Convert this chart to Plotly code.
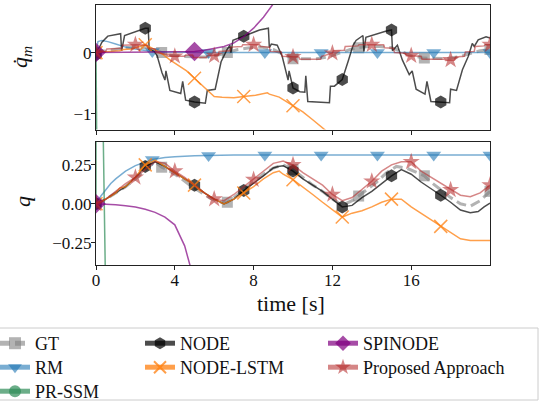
import numpy as np
import plotly.graph_objects as go

# ---------------- data: top panel (joint velocity dq_m) ----------------
t_gt_dq = [0, 0.5, 1.0, 1.5, 2.0, 2.5, 3.0, 3.333, 3.7, 4.3, 5.0, 5.6, 6.2, 6.667, 7.2, 7.8, 8.4, 9.0, 9.5,
           10.0, 10.6, 11.2, 11.8, 12.4, 12.9, 13.333, 13.8, 14.4, 15.0, 15.5, 16.0, 16.667, 17.2, 17.8, 18.4,
           19.0, 19.5, 20.0]
gt_dq = [0.0, 0.03, 0.06, 0.08, 0.09, 0.08, 0.05, 0.0, -0.04, -0.06, -0.07, -0.07, -0.04, 0.0, 0.05, 0.08, 0.09,
         0.05, -0.03, -0.1, -0.1, -0.1, -0.07, -0.01, 0.05, 0.08, 0.1, 0.1, 0.08, 0.02, -0.05, -0.09, -0.1, -0.1,
         -0.07, -0.01, 0.03, 0.05]

t_rm_dq = [0, 0.1, 0.3, 0.6, 1.0, 1.5, 2.0, 2.5, 2.857, 3.5, 4.5, 5.714, 8.571, 11.429, 14.286, 17.143, 20.0]
rm_dq = [0.0, 0.18, 0.2, 0.18, 0.14, 0.09, 0.06, 0.035, 0.02, 0.01, 0.005, 0.0, 0.0, 0.0, 0.0, 0.0, 0.0]

t_pr_dq = [0, 0.04]
pr_dq = [0.0, -1.6]

t_node_dq = [0, 0.3, 0.6, 1.25, 1.3, 1.45, 2.5, 2.65, 2.7, 2.95, 3.1, 3.35, 3.5, 3.55, 3.75, 4.3, 4.4, 4.55,
             5.0, 5.55, 5.65, 6.05, 6.35, 6.65, 6.8, 6.85, 6.95, 7.5, 8.3, 8.75, 8.8, 8.9, 9.2, 9.45, 9.6,
             9.75, 9.8, 10.0, 10.35, 10.6, 10.65, 10.75, 11.85, 11.9, 12.1, 12.5, 12.8, 13.05, 13.2, 13.4,
             13.55, 13.6, 13.7, 14.7, 15.0, 15.05, 15.3, 15.55, 15.9, 16.05, 16.25, 16.7, 16.8, 17.0, 17.5,
             17.95, 18.0, 18.3, 18.6, 18.9, 19.1, 19.2, 19.4, 19.8, 20.0]
node_dq = [-0.03, 0.17, 0.27, 0.31, 0.03, 0.28, 0.40, 0.40, 0.05, 0.02, -0.05, -0.33, -0.45, -0.30, -0.62,
           -0.67, -0.47, -0.78, -0.81, -0.83, -0.62, -0.60, -0.15, 0.05, 0.12, 0.0, 0.2, 0.27, 0.37, 0.40,
           0.08, 0.14, 0.12, -0.06, -0.28, -0.45, -0.30, -0.58, -0.64, -0.65, -0.38, -0.80, -0.82, -0.55,
           -0.55, -0.44, -0.14, 0.12, 0.2, 0.25, 0.28, 0.02, 0.25, 0.35, 0.37, 0.03, 0.12, -0.12, -0.36,
           -0.30, -0.60, -0.68, -0.47, -0.80, -0.81, -0.82, -0.60, -0.62, -0.28, -0.06, 0.15, 0.1, 0.21,
           0.26, 0.24]

t_lstm_dq = [0, 0.6, 1.2, 1.4, 1.8, 2.2, 2.5, 2.8, 3.1, 3.4, 3.75, 4.25, 4.6, 5.0, 5.6, 6.0, 6.4, 7.0, 7.5,
             8.1, 8.7, 8.8, 9.3, 10.0, 10.5, 11.0, 11.5, 12.0, 12.5]
lstm_dq = [0.0, 0.01, 0.03, 0.05, 0.06, 0.1, 0.13, 0.08, 0.03, -0.03, -0.12, -0.23, -0.3, -0.42, -0.6, -0.72,
           -0.73, -0.74, -0.72, -0.7, -0.66, -0.68, -0.73, -0.87, -0.97, -1.1, -1.24, -1.38, -1.5]

t_spin_dq = [0, 1, 2, 3, 4, 5, 5.5, 6, 6.5, 7, 7.5, 8, 8.5, 9, 9.5, 10]
spin_dq = [0.0, 0.0, 0.005, 0.01, 0.015, 0.02, 0.04, 0.065, 0.1, 0.16, 0.26, 0.4, 0.58, 0.8, 1.1, 1.5]

t_prop_dq = [0, 0.5, 0.55, 1.3, 1.35, 2.0, 2.6, 2.65, 3.0, 3.05, 3.6, 3.65, 4.0, 4.5, 4.55, 4.9, 4.95, 5.6,
             5.65, 6.0, 6.2, 6.25, 6.8, 6.85, 7.4, 7.45, 8.0, 8.3, 8.35, 8.8, 8.85, 9.4, 9.45, 10.0, 10.3,
             10.35, 11.4, 11.45, 12.0, 12.05, 12.6, 12.65, 13.3, 13.35, 14.0, 14.6, 14.65, 15.1, 15.15, 15.7,
             15.75, 16.0, 16.5, 16.55, 17.7, 17.75, 18.0, 18.2, 18.25, 18.7, 18.75, 19.2, 19.25, 19.7, 19.75,
             20.0]
prop_dq = [0.0, 0.02, 0.06, 0.07, 0.12, 0.13, 0.12, 0.07, 0.06, 0.0, -0.03, -0.06, -0.06, -0.06, -0.04,
           -0.04, -0.08, -0.08, -0.05, -0.05, -0.04, 0.02, 0.03, 0.09, 0.1, 0.13, 0.13, 0.13, 0.1, 0.09,
           0.02, 0.01, -0.06, -0.07, -0.07, -0.11, -0.11, -0.06, -0.01, 0.03, 0.04, 0.1, 0.11, 0.13, 0.13,
           0.13, 0.08, 0.07, 0.0, -0.01, -0.05, -0.05, -0.06, -0.11, -0.11, -0.13, -0.12, -0.12, -0.07,
           -0.06, 0.01, 0.02, 0.1, 0.11, 0.13, 0.13]

# ---------------- data: bottom panel (joint position q) ----------------
t_gt_q = [0, 0.5, 1.0, 1.5, 2.0, 2.5, 3.0, 3.333, 3.75, 4.25, 4.75, 5.25, 5.75, 6.25, 6.667, 7.0, 7.5, 8.0,
          8.5, 9.0, 9.5, 10.0, 10.5, 11.0, 11.5, 12.0, 12.5, 13.0, 13.333, 13.75, 14.25, 14.75, 15.25, 15.75,
          16.25, 16.667, 17.0, 17.5, 18.0, 18.5, 19.0, 19.5, 20.0]
gt_q = [0.0, 0.03, 0.07, 0.11, 0.16, 0.22, 0.27, 0.235, 0.21, 0.17, 0.12, 0.08, 0.04, 0.01, 0.01, 0.04, 0.09,
        0.14, 0.19, 0.23, 0.25, 0.22, 0.17, 0.12, 0.08, 0.03, -0.01, 0.02, 0.05, 0.09, 0.14, 0.2, 0.24, 0.23,
        0.2, 0.18, 0.14, 0.09, 0.04, 0.0, -0.015, 0.02, 0.08]

t_rm_q = [0, 0.25, 0.5, 0.75, 1.0, 1.5, 2.0, 2.5, 2.857, 3.5, 4.0, 5.0, 5.714, 7.0, 8.571, 11.429, 14.286,
          17.143, 20.0]
rm_q = [0.0, 0.05, 0.09, 0.13, 0.16, 0.21, 0.245, 0.27, 0.285, 0.297, 0.303, 0.309, 0.311, 0.313, 0.314,
        0.314, 0.314, 0.314, 0.314]

t_pr_q = [0, 0.01, 0.30, 0.60]
pr_q = [0.0, 5.0, 1.0, -1.5]

t_node_q = [0, 0.5, 1.0, 1.5, 2.0, 2.5, 3.0, 3.5, 4.0, 4.5, 5.0, 5.5, 6.0, 6.5, 7.0, 7.5, 8.0, 8.5, 9.0, 9.25,
            9.5, 10.0, 10.5, 11.0, 11.5, 12.0, 12.5, 13.0, 13.5, 14.0, 14.5, 15.0, 15.5, 16.0, 16.5, 17.0,
            17.5, 18.0, 18.5, 19.0, 19.4, 19.7, 20.0]
node_q = [0.0, 0.03, 0.07, 0.11, 0.17, 0.24, 0.27, 0.24, 0.2, 0.16, 0.12, 0.07, 0.03, 0.0, 0.03, 0.085, 0.13,
          0.18, 0.23, 0.24, 0.245, 0.21, 0.16, 0.12, 0.08, 0.03, -0.02, -0.01, 0.04, 0.08, 0.13, 0.18, 0.22,
          0.19, 0.14, 0.1, 0.055, 0.01, -0.04, -0.058, -0.05, -0.02, 0.005]

t_lstm_q = [0, 0.5, 1.0, 1.2, 1.5, 2.0, 2.5, 3.0, 3.5, 4.0, 4.5, 5.0, 5.5, 6.0, 6.5, 7.0, 7.5, 8.0, 8.5, 9.0,
            9.3, 9.5, 10.0, 10.5, 11.0, 11.5, 12.0, 12.5, 13.0, 13.5, 14.0, 14.5, 15.0, 15.5, 16.0, 16.5,
            17.0, 17.5, 18.0, 18.5, 19.0, 19.5, 20.0]
lstm_q = [0.0, 0.03, 0.07, 0.10, 0.11, 0.17, 0.25, 0.28, 0.24, 0.2, 0.16, 0.12, 0.07, 0.03, 0.0, 0.03, 0.07,
          0.11, 0.16, 0.2, 0.21, 0.19, 0.155, 0.11, 0.06, 0.01, -0.04, -0.085, -0.06, -0.045, -0.02, 0.01,
          0.03, 0.03, -0.02, -0.06, -0.1, -0.145, -0.18, -0.225, -0.235, -0.235, -0.235]

t_spin_q = [0, 0.5, 1.0, 1.5, 2.0, 2.5, 3.0, 3.5, 4.0, 4.5, 5.0, 5.5]
spin_q = [0.0, -0.002, -0.006, -0.012, -0.02, -0.035, -0.055, -0.085, -0.135, -0.27, -0.5, -0.9]

t_prop_q = [0, 0.5, 1.0, 1.5, 2.0, 2.5, 3.0, 3.5, 4.0, 4.5, 5.0, 5.5, 6.0, 6.5, 7.0, 7.5, 8.0, 8.5, 9.0, 9.5,
            10.0, 10.5, 11.0, 11.5, 12.0, 12.5, 13.0, 13.5, 14.0, 14.5, 15.0, 15.5, 16.0, 16.5, 17.0, 17.5,
            18.0, 18.5, 19.0, 19.5, 20.0]
prop_q = [0.0, 0.03, 0.08, 0.13, 0.17, 0.22, 0.27, 0.26, 0.21, 0.17, 0.12, 0.07, 0.03, 0.02, 0.06, 0.11, 0.155,
          0.21, 0.26, 0.275, 0.25, 0.2, 0.16, 0.12, 0.06, 0.02, 0.04, 0.09, 0.145, 0.21, 0.25, 0.27, 0.27,
          0.21, 0.17, 0.13, 0.09, 0.055, 0.045, 0.07, 0.12]

x_ticks = [0, 4, 8, 12, 16]
dq_ticks = [-1, 0]
q_ticks = [-0.25, 0.0, 0.25]

# ---------------- styles ----------------
FONT = "Liberation Serif"
series = [
    dict(name="GT", color="rgba(128,128,128,0.6)", width=3, dash="10px,5px", symbol="square", size=11,
         mk=[0, 3.333, 6.667, 10.0, 13.333, 16.667, 20.0], col=0, row=0,
         top=(t_gt_dq, gt_dq), bot=(t_gt_q, gt_q)),
    dict(name="RM", color="rgba(31,119,180,0.6)", width=1.5, dash="solid", symbol="triangle-down", size=13,
         mk=[0, 2.857, 5.714, 8.571, 11.429, 14.286, 17.143, 20.0], col=0, row=1,
         top=(t_rm_dq, rm_dq), bot=(t_rm_q, rm_q)),
    dict(name="PR-SSM", color="rgba(46,139,87,0.7)", width=1.5, dash="solid", symbol="circle", size=12,
         mk=[0], col=0, row=2, top=(t_pr_dq, pr_dq), bot=(t_pr_q, pr_q)),
    dict(name="NODE", color="rgba(0,0,0,0.7)", width=1.5, dash="solid", symbol="hexagon", size=13,
         mk=[0, 2.5, 5.0, 7.5, 10.0, 12.5, 15.0, 17.5], col=1, row=0,
         top=(t_node_dq, node_dq), bot=(t_node_q, node_q)),
    dict(name="NODE-LSTM", color="rgba(255,127,14,0.75)", width=1.5, dash="solid", symbol="x-thin", size=13,
         mk=[0, 2.5, 5.0, 7.5, 10.0, 12.5, 15.0, 17.5], col=1, row=1,
         top=(t_lstm_dq, lstm_dq), bot=(t_lstm_q, lstm_q)),
    dict(name="SPINODE", color="rgba(128,0,128,0.7)", width=1.5, dash="solid", symbol="diamond", size=15,
         mk=[0, 5.0, 10.0], col=2, row=0, top=(t_spin_dq, spin_dq), bot=(t_spin_q, spin_q)),
    dict(name="Proposed Approach", color="rgba(178,34,34,0.55)", width=1.5, dash="solid", symbol="star",
         size=13, mk=[0, 2, 4, 6, 8, 10, 12, 14, 16, 18, 20], col=2, row=1,
         top=(t_prop_dq, prop_dq), bot=(t_prop_q, prop_q)),
]

# ---------------- layout geometry (pixels) ----------------
W, H = 541, 405
L, R, T, B = 96, 51, 5, 140
PW, PH = W - L - R, H - T - B


def px_x(x):
    return (x - L) / PW


def px_y(y):
    return (H - B - y) / PH


COL_X = [-5, 140, 323]
ROW_TOP = [325, 349, 373]

fig = go.Figure()


def marker_style(s, size):
    m = dict(symbol=s["symbol"], size=size, color=s["color"], line=dict(width=0))
    if s["symbol"] == "x-thin":
        m["line"] = dict(width=1.5, color=s["color"])
    return m


legend_layouts = {}
for i, s in enumerate(series):
    for key, xa, ya in (("top", "x", "y"), ("bot", "x2", "y2")):
        t, v = s[key]
        t = np.array(t, dtype=float)
        v = np.array(v, dtype=float)
        fig.add_trace(go.Scatter(x=t, y=v, mode="lines", xaxis=xa, yaxis=ya, showlegend=False,
                                 line=dict(color=s["color"], width=s["width"], dash=s["dash"]),
                                 hoverinfo="skip"))
        sel = np.array([np.any(np.isclose(tt, s["mk"], atol=1e-3)) for tt in t])
        fig.add_trace(go.Scatter(x=t[sel], y=v[sel], mode="markers", xaxis=xa, yaxis=ya, showlegend=False,
                                 marker=marker_style(s, s["size"]), hoverinfo="skip"))
    lg = "legend" if i == 0 else f"legend{i + 1}"
    fig.add_trace(go.Scatter(x=[None], y=[None], mode="lines+markers", xaxis="x2", yaxis="y2", name=s["name"],
                             legend=lg,
                             line=dict(color=s["color"], width=s["width"], dash=s["dash"]),
                             marker=marker_style(s, s["size"])))
    legend_layouts[lg] = dict(x=px_x(COL_X[s["col"]]), y=px_y(ROW_TOP[s["row"]]), xanchor="left",
                              yanchor="top", bgcolor="rgba(0,0,0,0)", itemsizing="constant",
                              font=dict(family=FONT, size=18, color="#111"))

axis_common = dict(showline=True, linecolor="#222", linewidth=1, mirror=True, ticks="outside", ticklen=4,
                   tickcolor="#222", showgrid=False, zeroline=False, ticklabelstandoff=-4,
                   tickfont=dict(family=FONT, size=17, color="#111"))

fig.update_layout(
    width=W, height=H, margin=dict(l=L, r=R, t=T, b=B, autoexpand=False),
    plot_bgcolor="white", paper_bgcolor="white",
    font=dict(family=FONT, size=18, color="#111"),
    xaxis=dict(domain=[0, 1], anchor="y", range=[0, 20], tickvals=x_ticks, showticklabels=False, **axis_common),
    yaxis=dict(domain=[px_y(129.5), 1], anchor="x", range=[-1.26, 0.78], tickvals=dq_ticks, ticktext=["−1", "0"],
               **axis_common),
    xaxis2=dict(domain=[0, 1], anchor="y2", range=[0, 20], tickvals=x_ticks, matches="x", **axis_common),
    yaxis2=dict(domain=[0, px_y(142)], anchor="x2", range=[-0.393, 0.397], tickvals=q_ticks, tickformat=".2f",
                **axis_common),
    shapes=[dict(type="rect", xref="paper", yref="paper", x0=px_x(-3), x1=px_x(538), y0=px_y(400),
                 y1=px_y(328), line=dict(color="#cccccc", width=1), fillcolor="rgba(255,255,255,0.8)",
                 layer="below")],
    annotations=[
        dict(text="time [s]", xref="paper", yref="paper", x=px_x(291), y=px_y(303), showarrow=False,
             font=dict(family=FONT, size=22), xanchor="center", yanchor="middle"),
        dict(text="<i>q̇</i><sub><i>m</i></sub>", xref="paper", yref="paper", x=px_x(21), y=px_y(57),
             showarrow=False, textangle=-90, font=dict(family=FONT, size=22), xanchor="center",
             yanchor="middle"),
        dict(text="<i>q</i>", xref="paper", yref="paper", x=px_x(22), y=px_y(202), showarrow=False,
             textangle=-90, font=dict(family=FONT, size=22), xanchor="center", yanchor="middle"),
    ],
)
fig.update_layout(**legend_layouts)

fig.write_html("out.html", config={"displayModeBar": False},
               post_script="document.body.style.margin='0';")
